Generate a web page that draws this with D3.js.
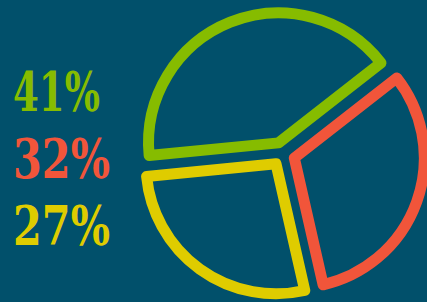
<!DOCTYPE html>
<html lang="en">
    <head>
        <meta charset="utf-8">
        <title>Pie outline</title>
        <script type="text/javascript" src="https://cdn.jsdelivr.net/npm/d3@7"></script>
        <style type="text/css">
            html, body { margin: 0; padding: 0; background: #01506b; }
            svg { display: block; }
        </style>
    </head>
    <body>
        <script type="text/javascript">
        var labels = ["41%", "32%", "27%"];
        var values = [41, 32, 27];
        var colors = ["#86bc00", "#f1553a", "#dfcc00"];

        var w = 427;
        var h = 302;
        var cx = 283, cy = 154;
        var r = 130;
        var offset = 12;
        var start = -95.6 * Math.PI / 180;

        var svg = d3.select("body")
                    .append("svg")
                    .attr("width", w)
                    .attr("height", h);

        svg.append("rect")
           .attr("width", w)
           .attr("height", h)
           .attr("fill", "#01506b");

        var pie = d3.pie()
            .sort(null)
            .startAngle(start)
            .endAngle(start + 2 * Math.PI);

        var arc = d3.arc()
            .innerRadius(0)
            .outerRadius(r);

        var slices = pie(values);

        svg.selectAll("path")
           .data(slices)
           .enter()
           .append("path")
           .attr("d", arc)
           .attr("transform", function(d) {
               // push each slice out along its middle angle
               var a = (d.startAngle + d.endAngle) / 2;
               return "translate(" + (cx + offset * Math.sin(a)) + "," + (cy - offset * Math.cos(a)) + ")";
           })
           .attr("fill", "none")
           .attr("stroke", function(d, i) { return colors[i]; })
           .attr("stroke-width", 11)
           .attr("stroke-linejoin", "round");

        svg.selectAll("text")
           .data(labels)
           .enter()
           .append("text")
           .text(function(d) { return d; })
           .attr("x", 13)
           .attr("y", function(d, i) { return 111 + i * 67; })
           .attr("font-family", "'DejaVu Serif', serif")
           .attr("font-weight", "bold")
           .attr("font-size", "54px")
           .attr("textLength", function(d, i) { return i === 0 ? 87 : 97; })
           .attr("lengthAdjust", "spacingAndGlyphs")
           .attr("fill", function(d, i) { return colors[i]; });
        </script>
    </body>
</html>
